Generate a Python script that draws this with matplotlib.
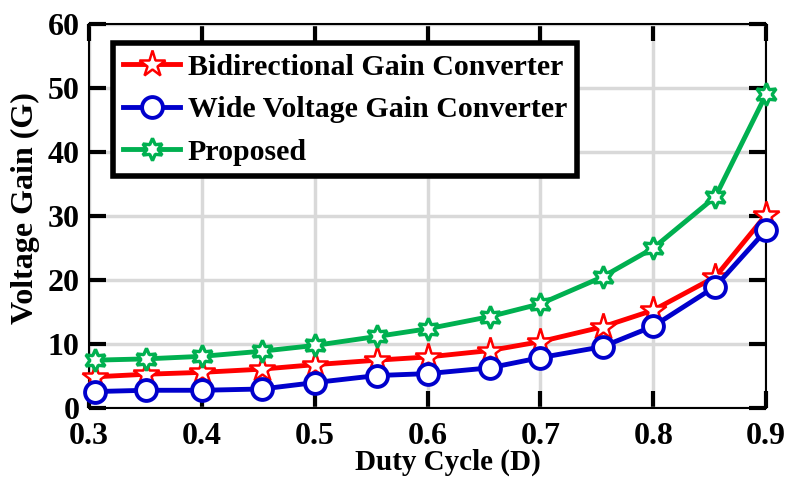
import numpy as np
import matplotlib.pyplot as plt

plt.rcParams['font.family'] = ['Liberation Serif', 'DejaVu Serif']
plt.rcParams['font.weight'] = 'bold'

duty = [0.305, 0.35, 0.4, 0.453, 0.5, 0.555, 0.6, 0.655, 0.7, 0.755, 0.8, 0.855, 0.9]
bidirectional = [4.9, 5.3, 5.6, 6.1, 6.8, 7.5, 8.0, 9.0, 10.4, 12.7, 15.3, 20.5, 30.2]
wide_voltage = [2.6, 2.8, 2.8, 3.0, 4.0, 5.1, 5.4, 6.3, 7.9, 9.6, 12.8, 19.0, 27.8]
proposed = [7.5, 7.7, 8.1, 8.9, 9.8, 11.2, 12.4, 14.3, 16.3, 20.5, 25.0, 33.0, 49.0]

fig = plt.figure(figsize=(7.89, 4.78), dpi=100)
ax = fig.add_axes([0.113, 0.146, 0.858, 0.804])

ax.plot(duty, bidirectional, color='#ff0000', lw=3.5, marker='*', ms=20,
        mfc='white', mec='#ff0000', mew=1.8, label='Bidirectional Gain Converter',
        zorder=3, clip_on=False)
ax.plot(duty, wide_voltage, color='#0000cc', lw=3.5, marker='o', ms=15,
        mfc='white', mec='#0000cc', mew=2.8, label='Wide Voltage Gain Converter',
        zorder=3, clip_on=False)
ax.plot(duty, proposed, color='#00b050', lw=3.5, marker=(6, 1, 0), ms=16,
        mfc='white', mec='#00b050', mew=2.4, label='Proposed',
        zorder=3, clip_on=False)

ax.set_xlim(0.3, 0.9)
ax.set_ylim(0, 60)
ax.set_xticks(np.arange(0.3, 0.91, 0.1))
ax.set_yticks(np.arange(0, 61, 10))
ax.set_xticklabels(['0.3', '0.4', '0.5', '0.6', '0.7', '0.8', '0.9'])
ax.grid(True, color='#d9d9d9', lw=2.5)
ax.set_axisbelow(True)
ax.tick_params(direction='in', length=12, width=3, labelsize=23, top=True, right=True)
ax.tick_params(axis='x', pad=10)
ax.tick_params(axis='y', pad=7)
for s in ax.spines.values():
    s.set_linewidth(1.5)

ax.set_xlabel('Duty Cycle (D)', fontsize=21, fontweight='bold')
ax.xaxis.set_label_coords(0.53, -0.105)
ax.set_ylabel('Voltage Gain (G)', fontsize=23, fontweight='bold')
ax.yaxis.set_label_coords(-0.072, 0.52)

leg = ax.legend(loc='upper left', bbox_to_anchor=(0.035, 0.95), borderaxespad=0,
                fontsize=21.5, frameon=True, fancybox=False, handlelength=1.9,
                borderpad=0.35, labelspacing=0.52, handletextpad=0.25)
leg.get_frame().set_edgecolor('black')
leg.get_frame().set_linewidth(4)
leg.get_frame().set_alpha(1)

fig.savefig('out.png', dpi=100)
